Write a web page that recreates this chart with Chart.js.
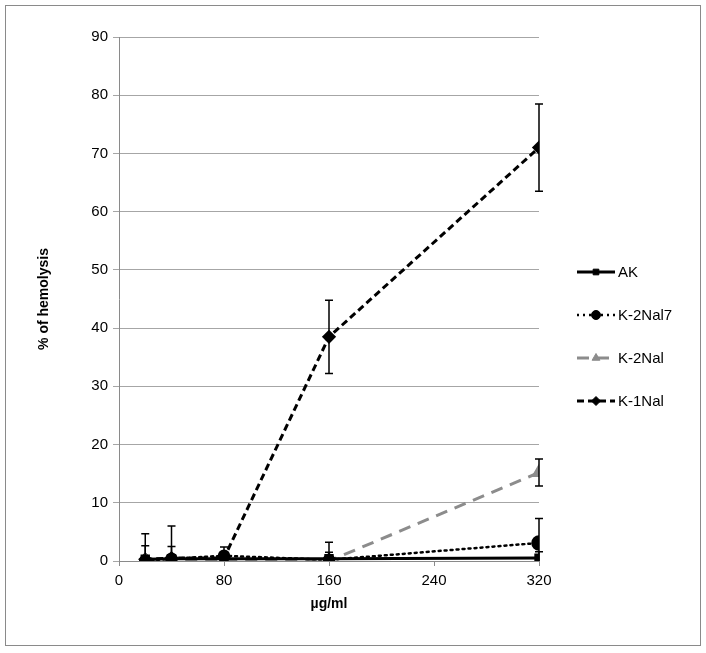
<!DOCTYPE html>
<html>
<head>
<meta charset="utf-8">
<script src="https://cdn.jsdelivr.net/npm/chart.js@4.4.1/dist/chart.umd.min.js"></script>
<style>
  body { margin: 0; background: #fff; }
  canvas { display: block; }
</style>
</head>
<body>
<canvas id="hemoChart" width="706" height="653"></canvas>
<script>
// concentrations (µg/ml)
const doses = [20, 40, 80, 160, 320];
const xTicks = [0, 80, 160, 240, 320];

// % of hemolysis, with +/- error
const akVals = [0.3, 0.4, 0.4, 0.4, 0.5];
const akErr = [2.3, 2.1, 1.0, 1.1, 1.1];
const nal7Vals = [0.0, 0.4, 0.9, 0.2, 3.1];
const nal7Err = [4.7, 5.6, 1.5, 3.0, 4.2];
const nal2Vals = [0.0, 0.0, 0.0, 0.0, 15.2];
const nal2Err = [0, 0, 0, 0.4, 2.3];
const nal1Vals = [0.3, 0.5, 0.5, 38.5, 71.0];
const nal1Err = [0, 0, 0.6, 6.3, 7.5];

const FONT = "'Liberation Sans', Arial, sans-serif";

function pts(vals) {
    return doses.map((d, i) => ({ x: d, y: vals[i] }));
}

// white background + grey frame round the whole figure
const frame = {
    id: 'frame',
    beforeDraw(chart) {
        const c = chart.ctx;
        c.save();
        c.fillStyle = '#fff';
        c.fillRect(0, 0, chart.width, chart.height);
        c.strokeStyle = '#8a8a8a';
        c.lineWidth = 1;
        c.strokeRect(5.5, 5.5, 695, 640);
        c.restore();
    }
};

// error bars, drawn with the chart's own scales
const errorBars = {
    id: 'errorBars',
    afterDatasetsDraw(chart) {
        const c = chart.ctx;
        const xs = chart.scales.x, ys = chart.scales.y;
        c.save();
        c.strokeStyle = '#000';
        c.lineWidth = 1.5;
        chart.data.datasets.forEach(ds => {
            ds.data.forEach((p, i) => {
                const e = ds.errors[i];
                if (!e) return;
                const px = xs.getPixelForValue(p.x);
                const top = ys.getPixelForValue(p.y + e);
                const bot = ys.getPixelForValue(Math.max(p.y - e, ys.min));
                c.beginPath();
                c.moveTo(px, top); c.lineTo(px, bot);
                c.moveTo(px - 4, top); c.lineTo(px + 4, top);
                if (p.y - e >= ys.min) { c.moveTo(px - 4, bot); c.lineTo(px + 4, bot); }
                c.stroke();
            });
        });
        c.restore();
    }
};

// legend on the right: line sample with marker, then label
const sideLegend = {
    id: 'sideLegend',
    afterDraw(chart) {
        const c = chart.ctx;
        const rows = [272, 315, 358, 401];
        const sizes = [4, 4.5, 4.5, 4.5];
        c.save();
        chart.data.datasets.forEach((ds, i) => {
            const y = rows[i];
            c.strokeStyle = ds.borderColor;
            c.lineWidth = ds.borderWidth;
            c.setLineDash(ds.borderDash || []);
            c.beginPath();
            c.moveTo(577, y); c.lineTo(615, y);
            c.stroke();
            c.setLineDash([]);
            c.fillStyle = ds.pointBackgroundColor;
            c.strokeStyle = ds.pointBorderColor;
            c.lineWidth = 1;
            Chart.helpers.drawPoint(c, {
                pointStyle: ds.pointStyle,
                radius: sizes[i],
                rotation: 0,
                borderWidth: 1
            }, 596, y);
            c.fillStyle = '#000';
            c.font = '15px ' + FONT;
            c.textBaseline = 'middle';
            c.fillText(ds.label, 618, y + 1);
        });
        c.restore();
    }
};

new Chart(document.getElementById('hemoChart').getContext('2d'), {
    type: 'line',
    data: {
        datasets: [
            {
                label: 'AK', data: pts(akVals), errors: akErr,
                borderColor: '#000', borderWidth: 3,
                pointStyle: 'rect', pointRadius: 4.5,
                pointBackgroundColor: '#000', pointBorderColor: '#000'
            },
            {
                label: 'K-2Nal7', data: pts(nal7Vals), errors: nal7Err,
                borderColor: '#000', borderWidth: 2.5, borderDash: [2, 4], borderCapStyle: 'round',
                pointStyle: 'circle', pointRadius: [5, 5, 5, 5, 6.5],
                pointBackgroundColor: '#000', pointBorderColor: '#000'
            },
            {
                label: 'K-2Nal', data: pts(nal2Vals), errors: nal2Err,
                borderColor: '#8c8c8c', borderWidth: 3, borderDash: [12, 8],
                pointStyle: 'triangle', pointRadius: 6,
                pointBackgroundColor: '#8c8c8c', pointBorderColor: '#8c8c8c'
            },
            {
                label: 'K-1Nal', data: pts(nal1Vals), errors: nal1Err,
                borderColor: '#000', borderWidth: 3, borderDash: [7, 4],
                pointStyle: 'rectRot', pointRadius: 5,
                pointBackgroundColor: '#000', pointBorderColor: '#000'
            }
        ]
    },
    options: {
        responsive: false,
        animation: false,
        devicePixelRatio: 1,
        layout: { padding: { top: 37, right: 167, left: 36, bottom: 40 } },
        plugins: {
            legend: { display: false },
            tooltip: { enabled: false }
        },
        scales: {
            x: {
                type: 'linear', min: 0, max: 320,
                afterFit: s => { s.height = 52; },
                afterBuildTicks: s => { s.ticks = xTicks.map(v => ({ value: v })); },
                grid: { drawOnChartArea: false, color: '#8a8a8a', tickLength: 5 },
                border: { color: '#8a8a8a' },
                ticks: { color: '#000', font: { family: FONT, size: 15 }, padding: 6 },
                title: {
                    display: true, text: 'µg/ml', color: '#000',
                    font: { family: FONT, size: 14, weight: 'bold' }, padding: { top: 4, bottom: 0 }
                }
            },
            y: {
                min: 0, max: 90,
                afterFit: s => { s.width = 83; },
                grid: { color: '#a6a6a6', tickLength: 6 },
                border: { color: '#8a8a8a' },
                ticks: { stepSize: 10, color: '#000', font: { family: FONT, size: 15 }, padding: 5 },
                title: {
                    display: true, text: '% of hemolysis', color: '#000',
                    font: { family: FONT, size: 14, weight: 'bold' }, padding: 0
                }
            }
        }
    },
    plugins: [frame, errorBars, sideLegend]
});
</script>
</body>
</html>
